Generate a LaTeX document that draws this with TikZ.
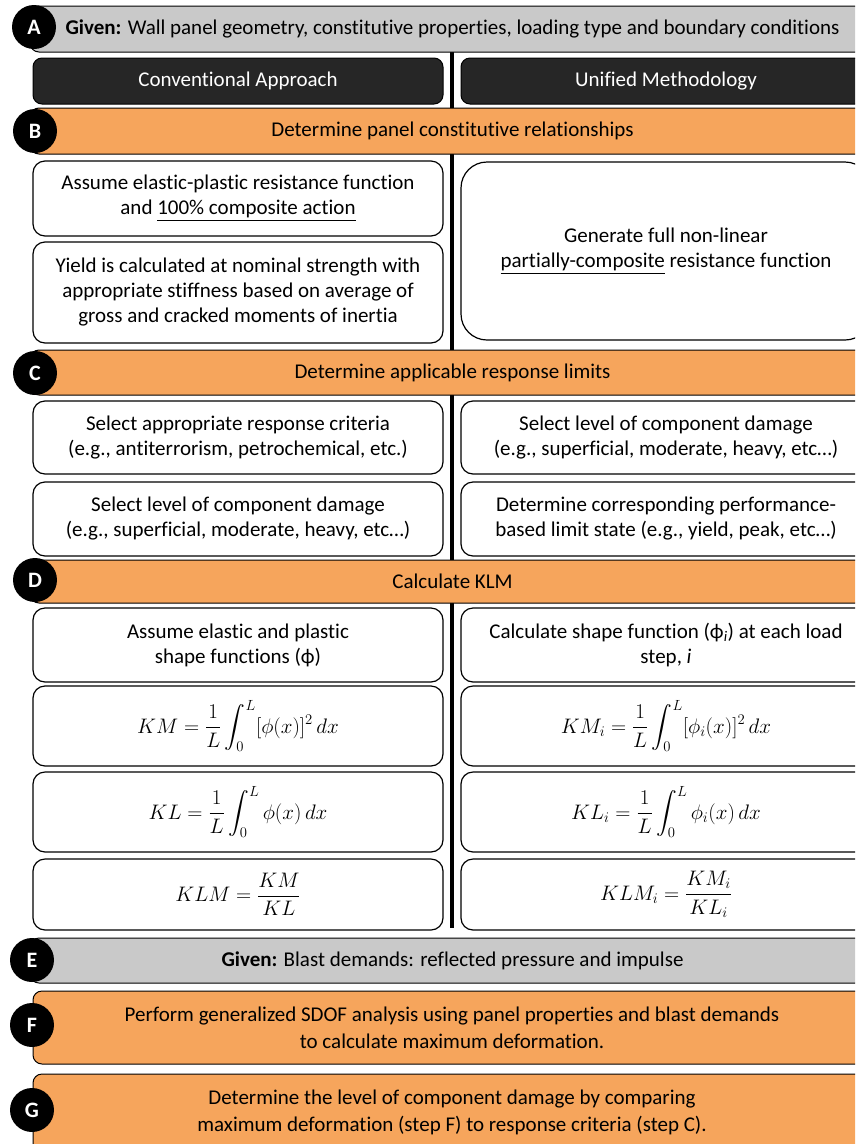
\documentclass[tikz,border=0pt]{standalone}
\usepackage{fix-cm}
\usepackage{amsmath}
\usepackage{fontspec}
\setmainfont{Carlito}[Ligatures=NoCommon]
\definecolor{orng}{RGB}{246,165,92}
\definecolor{gry}{RGB}{201,201,201}
\definecolor{dark}{RGB}{38,38,38}
\begin{document}
\begin{tikzpicture}[x=1pt,y=-1pt,
  every node/.style={font=\fontsize{21}{25}\selectfont},
  bar/.style={draw=black, line width=1pt, rounded corners=9pt, inner sep=0pt, align=center, minimum width=845pt},
  gbar/.style={bar, fill=gry},
  obar/.style={bar, fill=orng},
  hdr/.style={draw=black, line width=1pt, fill=dark, text=white, rounded corners=9pt, minimum width=410pt, minimum height=46pt, inner sep=0pt},
  box/.style={draw=black, line width=1.2pt, fill=white, rounded corners=12pt, minimum width=410pt, inner sep=0pt, align=center},
  circ/.style={circle, fill=black, text=white, minimum size=44pt, inner sep=0pt, font=\fontsize{22}{22}\selectfont\bfseries},
  twol/.style={align=center, font=\fontsize{21}{27}\selectfont},
  divider/.style={line width=4pt}
]
\clip (0,0) rectangle (855,1144);
\useasboundingbox (0,0) rectangle (855,1144);
\fill[white] (0,0) rectangle (855,1144);

% divider
\coordinate (dtop) at (452,52);
\coordinate (dbot) at (452,928);
\draw[divider] (dtop) -- (dbot);

% A
\node[gbar, minimum height=46pt] (barA) at (452.5,29) {\textbf{Given:} Wall panel geometry, constitutive properties, loading type and boundary conditions};
\node[hdr] (hL) at (238,81) {Conventional Approach};
\node[hdr] (hR) at (666,81) {Unified Methodology};

% B
\node[obar, minimum height=46pt] (barB) at (452.5,131) {Determine panel constitutive relationships};
\node[box, minimum height=75pt] (b1) at (238,198.5) {Assume elastic-plastic resistance function\\and \underline{100\% composite action}};
\node[box, minimum height=101pt] (b2) at (238,292.5) {Yield is calculated at nominal strength with\\appropriate stiffness based on average of\\gross and cracked moments of inertia};
\node[box, minimum height=178pt, rounded corners=26pt] (b3) at (666,251) {Generate full non-linear\\\underline{partially-composite} resistance function};

% C
\node[obar, minimum height=45pt] (barC) at (452.5,372.5) {Determine applicable response limits};
\node[box, minimum height=73pt] (c1) at (238,437.5) {Select appropriate response criteria\\(e.g., antiterrorism, petrochemical, etc.)};
\node[box, minimum height=74pt] (c2) at (238,519) {Select level of component damage\\(e.g., superficial, moderate, heavy, etc…)};
\node[box, minimum height=73pt] (c3) at (666,437.5) {Select level of component damage\\(e.g., superficial, moderate, heavy, etc…)};
\node[box, minimum height=74pt] (c4) at (666,519) {Determine corresponding performance-\\based limit state (e.g., yield, peak, etc…)};

% D
\node[obar, minimum height=43pt] (barD) at (452.5,581.5) {Calculate KLM};
\node[box, minimum height=74pt] (d1) at (238,645) {Assume elastic and plastic\\shape functions (ϕ)};
\node[box, minimum height=74pt] (d2) at (666,645) {Calculate shape function (ϕ\textsubscript{\textit{i}}) at each load\\step, \textit{i}};
\node[box, minimum height=80pt] (d3) at (238,726) {$\displaystyle KM=\frac{1}{L}\int_0^L[\phi(x)]^2\,dx$};
\node[box, minimum height=80pt] (d4) at (666,726) {$\displaystyle KM_i=\frac{1}{L}\int_0^L[\phi_i(x)]^2\,dx$};
\node[box, minimum height=80pt] (d5) at (238,812) {$\displaystyle KL=\frac{1}{L}\int_0^L\phi(x)\,dx$};
\node[box, minimum height=80pt] (d6) at (666,812) {$\displaystyle KL_i=\frac{1}{L}\int_0^L\phi_i(x)\,dx$};
\node[box, minimum height=71pt] (d7) at (238,894.5) {$\displaystyle KLM=\frac{KM}{KL}$};
\node[box, minimum height=71pt] (d8) at (666,894.5) {$\displaystyle KLM_i=\frac{KM_i}{KL_i}$};

% E, F, G
\node[gbar, minimum height=45pt] (barE) at (452.5,960.5) {\textbf{Given:} Blast demands: reflected pressure and impulse};
\node[obar, minimum height=73pt, minimum width=842pt] (barF) at (454,1027.5) {};
\node[twol] (tF) at (452,1028) {Perform generalized SDOF analysis using panel properties and blast demands\\to calculate maximum deformation.};
\node[obar, minimum height=86pt, minimum width=842pt] (barG) at (454,1117) {};
\node[twol] (tG) at (452,1112) {Determine the level of component damage by comparing\\maximum deformation (step F) to response criteria (step C).};

% circles
\node[circ] (cA) at (34,27) {A};
\node[circ] (cB) at (35,131) {B};
\node[circ] (cC) at (35,373) {C};
\node[circ] (cD) at (35,580) {D};
\node[circ] (cE) at (32,960) {E};
\node[circ] (cF) at (32,1025) {F};
\node[circ] (cG) at (32,1110) {G};
\end{tikzpicture}
\end{document}
